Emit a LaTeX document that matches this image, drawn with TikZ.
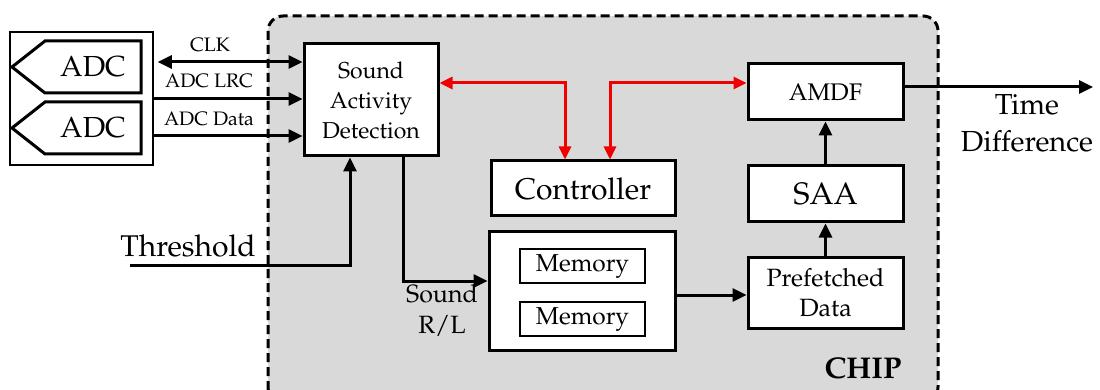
\documentclass[tikz,border=0pt]{standalone}
\usepackage[T1]{fontenc}
\usepackage{mathpazo}
\usetikzlibrary{arrows.meta,calc}
\definecolor{chipgray}{RGB}{217,217,217}
\definecolor{sigred}{RGB}{240,0,0}
\newcommand{\fs}[2]{\fontsize{#1}{#2}\selectfont}
\begin{document}
\begin{tikzpicture}[x=1pt,y=-1pt,
  box/.style={draw=black,line width=3pt,fill=white,inner sep=0pt,align=center},
  innerbox/.style={draw=black,line width=2.5pt,fill=white,inner sep=0pt,align=center},
  arr/.style={line width=3pt,-{Triangle[length=14pt,width=13pt]}},
  dblarr/.style={line width=3pt,{Triangle[length=14pt,width=13pt]}-{Triangle[length=14pt,width=13pt]}},
  redarr/.style={draw=sigred,line width=3pt,{Triangle[length=13pt,width=12pt]}-{Triangle[length=13pt,width=12pt]}},
  adcshape/.style={draw=black,line width=3pt,fill=white,line join=miter},
  lbl/.style={inner sep=0pt,align=center}
]
\useasboundingbox (0,0) rectangle (1100,390);

% chip region
\draw[line width=3pt,dash pattern=on 9pt off 5pt,rounded corners=15pt,fill=chipgray]
  (268,16) rectangle (938,402);
\node[lbl,font=\fs{30}{34}\bfseries] (chip) at (863,368) {CHIP};

% ADC group
\node[draw=black,line width=1.5pt,fill=white,minimum width=143pt,minimum height=133pt,inner sep=0pt] (adcbox) at (81.5,98.5) {};
\draw[adcshape] (45,41) -- (141,41) -- (141,93) -- (45,93) -- (12,67) -- cycle;
\draw[adcshape] (45,102) -- (141,102) -- (141,154) -- (45,154) -- (12,128) -- cycle;
\node[lbl,font=\fs{29}{32}] (adc1) at (93,67) {ADC};
\node[lbl,font=\fs{29}{32}] (adc2) at (93,128) {ADC};

% blocks
\node[box,minimum width=134pt,minimum height=112pt,font=\fs{23}{30}] (sad) at (371,100) {Sound\\Activity\\Detection};
\node[box,minimum width=184pt,minimum height=55pt,font=\fs{30}{32}] (ctrl) at (583,188.5) {Controller};
\node[box,minimum width=186pt,minimum height=119pt] (mem) at (582,290.5) {};
\node[innerbox,minimum width=125pt,minimum height=34pt,font=\fs{24.5}{28}] (mem1) at (582.5,266) {Memory};
\node[innerbox,minimum width=125pt,minimum height=34pt,font=\fs{24.5}{28}] (mem2) at (582.5,319) {Memory};
\node[box,minimum width=155pt,minimum height=71pt,font=\fs{25}{30}] (pre) at (825.5,292.5) {Prefetched\\Data};
\node[box,minimum width=155pt,minimum height=56pt,font=\fs{31}{34}] (saa) at (825.5,194) {SAA};
\node[box,minimum width=155pt,minimum height=56pt,font=\fs{24}{28}] (amdf) at (825.5,92) {AMDF};

% helper coordinates
\coordinate (yclk) at (0,62);
\coordinate (ylrc) at (0,99);
\coordinate (ydata) at (0,136);
\coordinate (thr) at (130,265);
\coordinate (xthr) at (350,0);
\coordinate (xsnd) at (403,0);
\coordinate (ysnd) at (0,281);
\coordinate (yred) at (0,83);
\coordinate (xc1) at (565,0);
\coordinate (xc2) at (610,0);
\coordinate (ypre) at (0,295);
\coordinate (yout) at (0,87);
\coordinate (out) at (1093,87);

% ADC signals
\draw[dblarr,shorten <=4pt] (adcbox.east |- yclk) -- (sad.west |- yclk);
\draw[arr] (adcbox.east |- ylrc) -- (sad.west |- ylrc);
\draw[arr] (adcbox.east |- ydata) -- (sad.west |- ydata);
\node[lbl,font=\fs{19.5}{22}] (lclk) at (210,45) {CLK};
\node[lbl,font=\fs{19.5}{22}] (llrc) at (209,81) {ADC LRC};
\node[lbl,font=\fs{19.5}{22}] (ldata) at (209,119) {ADC Data};

% threshold
\draw[arr] (thr) -| (sad.south -| xthr);
\node[lbl,font=\fs{30}{34}] (lthr) at (188,246) {Threshold};

% sound to memory
\draw[arr] (sad.south -| xsnd) |- (mem.west |- ysnd);
\node[lbl,font=\fs{25}{31}] (lsnd) at (442,310) {Sound\\R/L};

% red control lines
\draw[redarr] (sad.east |- yred) -| (ctrl.north -| xc1);
\draw[redarr] (ctrl.north -| xc2) |- (amdf.west |- yred);

% data path
\draw[arr] (mem.east |- ypre) -- (pre.west |- ypre);
\draw[arr] (pre.north) -- (saa.south);
\draw[arr] (saa.north) -- (amdf.south);
\draw[arr] (amdf.east |- yout) -- (out);
\node[lbl,font=\fs{29}{37}] (ltd) at (1027,123) {Time\\Difference};
\end{tikzpicture}
\end{document}
